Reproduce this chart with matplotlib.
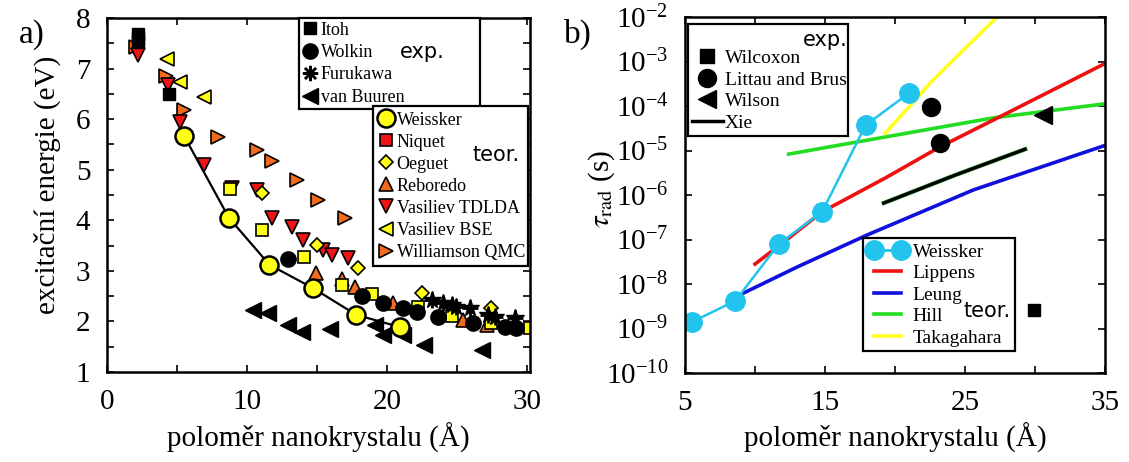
import numpy as np
import matplotlib
matplotlib.use("Agg")
import matplotlib.pyplot as plt
from matplotlib.lines import Line2D
import matplotlib.patheffects as pe

plt.rcParams['font.family'] = ['Liberation Serif', 'DejaVu Serif']
plt.rcParams['mathtext.fontset'] = 'stix'

# ---- panel a) data: excitation energy vs radius
itoh_x = [2.2, 2.2, 2.2, 4.4]
itoh_y = [7.68, 7.6, 7.52, 6.5]
wolkin_x = [12.9, 18.2, 19.7, 21.1, 22.1, 23.6, 26.1, 28.4, 29.2]
wolkin_y = [3.24, 2.51, 2.37, 2.27, 2.19, 2.09, 1.97, 1.89, 1.87]
furukawa_x = [23.2, 24.0, 24.6, 24.9, 25.9, 27.2, 27.7, 29.1]
furukawa_y = [2.43, 2.37, 2.33, 2.29, 2.27, 2.13, 2.09, 2.06]
vanbuuren_x = [10.4, 11.5, 12.9, 13.9, 15.9, 19.1, 19.7, 21.1, 22.6, 26.8]
vanbuuren_y = [2.23, 2.17, 1.93, 1.80, 1.85, 1.93, 1.73, 1.74, 1.54, 1.44]
weissker_x = [5.5, 8.7, 11.6, 14.7, 17.8, 20.9]
weissker_y = [5.67, 4.05, 3.12, 2.66, 2.13, 1.89]
niquet_x = [8.8, 11.1, 14.1, 16.8, 18.9, 22.2, 24.6, 27.4, 30.2]
niquet_y = [4.62, 3.81, 3.28, 2.72, 2.55, 2.29, 2.11, 1.97, 1.87]
oeguet_x = [11.1, 15.0, 17.9, 22.5, 27.4]
oeguet_y = [4.54, 3.51, 3.06, 2.57, 2.27]
reboredo_x = [14.9, 16.8, 17.7, 20.4, 25.4, 27.1]
reboredo_y = [2.96, 2.83, 2.69, 2.37, 2.03, 1.93]
tdlda_x = [2.2, 4.35, 5.2, 6.9, 8.9, 10.7, 11.8, 13.2, 14.0, 15.4, 16.1, 17.2]
tdlda_y = [7.27, 6.68, 5.95, 5.10, 4.63, 4.60, 4.05, 3.87, 3.61, 3.41, 3.32, 3.26]
bse_x = [4.3, 5.2, 6.9]
bse_y = [7.19, 6.74, 6.44]
qmc_x = [2.1, 4.2, 5.5, 7.9, 10.7, 11.8, 13.6, 15.1, 17.0]
qmc_y = [7.43, 6.85, 6.18, 5.65, 5.39, 5.18, 4.80, 4.40, 4.05]

# ---- panel b) data: radiative lifetime vs radius
weis_r = [5.5, 8.6, 11.7, 14.8, 17.9, 21.0]
weis_t = [1.4e-9, 4.2e-9, 7.9e-8, 4.2e-7, 3.7e-5, 1.95e-4]
lippens_r = [10.0, 11.8, 14.8, 19.4, 23.2, 28.0, 35.0]
lippens_t = [2.8e-8, 7.6e-8, 4.2e-7, 2.5e-6, 1.2e-5, 6.9e-5, 9.0e-4]
leung_r = [8.6, 13.0, 18.0, 25.6, 35.0]
leung_t = [5.1e-9, 2.4e-8, 1.26e-7, 1.3e-6, 1.3e-5]
hill_r = [12.4, 27.0, 35.0]
hill_t = [8.3e-6, 5.4e-5, 1.12e-4]
taka_r = [19.3, 21.0, 22.7, 25.6, 27.3]
taka_t = [2.45e-5, 9.5e-5, 3.8e-4, 3.0e-3, 1.0e-2]
xie_r = [19.2, 24.3, 29.3]
xie_t = [6.6e-7, 2.8e-6, 1.07e-5]
wilcoxon_r = [29.9]
wilcoxon_t = [2.6e-9]
littau_r = [22.6, 23.2]
littau_t = [9.5e-5, 1.45e-5]
wilson_r = [30.6]
wilson_t = [6.3e-5]

YEL = '#ffff14'
ORA = '#f26a1c'
RED = '#f01414'

fig = plt.figure(figsize=(11.29, 4.62), dpi=100)
ax1 = fig.add_axes([0.0948, 0.1948, 0.3746, 0.7662])
ax2 = fig.add_axes([0.6067, 0.1926, 0.3720, 0.7706])

for ax in (ax1, ax2):
    for s in ax.spines.values():
        s.set_linewidth(1.8)
    ax.tick_params(direction='in', top=True, right=True, length=5, width=1.2,
                   labelsize=21, pad=12)
    ax.tick_params(which='minor', length=0)

# ---------------- panel a)
ms = 10
kw = dict(linestyle='none', markeredgecolor='black', markeredgewidth=1.2)
ax1.plot(weissker_x, weissker_y, '-', color='black', lw=1.6, zorder=2)
ax1.plot(qmc_x, qmc_y, '>', color=ORA, ms=ms, **kw)
ax1.plot(bse_x, bse_y, '<', color=YEL, ms=ms, **kw)
ax1.plot(tdlda_x, tdlda_y, 'v', color=RED, ms=ms, **kw)
ax1.plot(reboredo_x, reboredo_y, '^', color=ORA, ms=ms, **kw)
ax1.plot(niquet_x, niquet_y, 's', color=YEL, ms=9, **kw)
ax1.plot(oeguet_x, oeguet_y, 'D', color=YEL, ms=7.5, **kw)
ax1.plot(weissker_x, weissker_y, 'o', color=YEL, ms=13, markeredgecolor='black',
         markeredgewidth=1.8, linestyle='none', zorder=3)
ax1.plot(itoh_x, itoh_y, 's', color='black', ms=9, linestyle='none')
ax1.plot(wolkin_x, wolkin_y, 'o', color='black', ms=11, linestyle='none')
ax1.plot(furukawa_x, furukawa_y, '*', color='black', ms=13, linestyle='none')
ax1.plot(furukawa_x, furukawa_y, '+', color='black', ms=12, mew=2, linestyle='none')
ax1.plot(vanbuuren_x, vanbuuren_y, '<', color='black', ms=11, linestyle='none')

ax1.set_xlim(0, 30.2)
ax1.set_ylim(1, 8)
ax1.set_xticks(np.arange(0, 31, 5))
ax1.set_xticklabels(['0', '', '10', '', '20', '', '30'])
ax1.set_yticks(np.arange(1, 8.01, 0.5))
ax1.set_yticklabels([str(int(v)) if v == int(v) else '' for v in np.arange(1, 8.01, 0.5)])

h_exp1 = [Line2D([], [], marker='s', color='black', ls='none', ms=9),
          Line2D([], [], marker='o', color='black', ls='none', ms=11),
          Line2D([], [], marker=(8, 2, 0), color='black', ls='none', ms=11, mew=1.8),
          Line2D([], [], marker='<', color='black', ls='none', ms=11)]
leg = ax1.legend(h_exp1, ['Itoh', 'Wolkin', 'Furukawa', 'van Buuren'],
                 loc='upper left', bbox_to_anchor=(0.454, 0.0, 0.428, 1.0), mode='expand',
                 fontsize=13, handlelength=0.8, handletextpad=0.2, labelspacing=0.3,
                 borderpad=0.2, borderaxespad=0, fancybox=False, edgecolor='black',
                 framealpha=1)
leg.get_frame().set_linewidth(1.6)
ax1.add_artist(leg)
ax1.text(0.745, 0.904, 'exp.', transform=ax1.transAxes, family='DejaVu Sans',
         fontsize=15, ha='center', va='center', zorder=10)

mk = dict(ls='none', markeredgecolor='black', markeredgewidth=1.2)
h_teo1 = [Line2D([], [], marker='o', color=YEL, ms=13, markeredgecolor='black',
                 markeredgewidth=1.8, ls='none'),
          Line2D([], [], marker='s', color=RED, ms=9, **mk),
          Line2D([], [], marker='D', color=YEL, ms=7.5, **mk),
          Line2D([], [], marker='^', color=ORA, ms=ms, **mk),
          Line2D([], [], marker='v', color=RED, ms=ms, **mk),
          Line2D([], [], marker='<', color=YEL, ms=ms, **mk),
          Line2D([], [], marker='>', color=ORA, ms=ms, **mk)]
leg2 = ax1.legend(h_teo1, ['Weissker', 'Niquet', 'Oeguet', 'Reboredo', 'Vasiliev TDLDA',
                           'Vasiliev BSE', 'Williamson QMC'],
                  loc='upper left', bbox_to_anchor=(0.629, 0.0, 0.366, 0.751), mode='expand',
                  fontsize=13, handlelength=0.8, handletextpad=0.2, labelspacing=0.28,
                  borderpad=0.3, borderaxespad=0, fancybox=False, edgecolor='black',
                  framealpha=1)
leg2.get_frame().set_linewidth(1.6)
ax1.text(0.92, 0.613, 'teor.', transform=ax1.transAxes, family='DejaVu Sans',
         fontsize=15, ha='center', va='center', zorder=10)

# ---------------- panel b)
ax2.set_yscale('log')
ax2.plot(hill_r, hill_t, color='#22dd22', lw=2.6)
ax2.plot(lippens_r, lippens_t, color='#ee1111', lw=2.6)
ax2.plot(leung_r, leung_t, color='#1010dd', lw=2.6)
ax2.plot(taka_r, taka_t, color='#ffff22', lw=2.6)
ax2.plot(xie_r, xie_t, color='black', lw=2.4,
         path_effects=[pe.Stroke(linewidth=3.2, foreground='#55bb55'), pe.Normal()])
ax2.plot(weis_r, weis_t, '-o', color='#22c4ee', lw=1.8, ms=14)
ax2.plot(wilcoxon_r, wilcoxon_t, 's', color='black', ms=9)
ax2.plot(littau_r, littau_t, 'o', color='black', ms=13)
ax2.plot(wilson_r, wilson_t, '<', color='black', ms=13)

ax2.set_xlim(5, 35)
ax2.set_ylim(1e-10, 1e-2)
ax2.set_xticks(np.arange(5, 36, 5))
ax2.set_xticklabels(['5', '', '15', '', '25', '', '35'])
ax2.set_yticks([10.0 ** k for k in range(-10, -1)])
ax2.minorticks_off()

h_exp2 = [Line2D([], [], ls='none', marker=None),
          Line2D([], [], marker='s', color='black', ls='none', ms=10),
          Line2D([], [], marker='o', color='black', ls='none', ms=13),
          Line2D([], [], marker='<', color='black', ls='none', ms=13),
          Line2D([], [], color='black', lw=2.5)]
leg3 = ax2.legend(h_exp2, [' ', 'Wilcoxon', 'Littau and Brus', 'Wilson', 'Xie'],
                  loc='upper left', bbox_to_anchor=(0.007, 0.0, 0.381, 0.98), mode='expand',
                  fontsize=14, handlelength=1.6, handletextpad=0.1, labelspacing=0.2,
                  borderpad=0.2, borderaxespad=0, fancybox=False, edgecolor='black',
                  framealpha=1)
leg3.get_frame().set_linewidth(1.6)
ax2.add_artist(leg3)
ax2.text(0.333, 0.935, 'exp.', transform=ax2.transAxes, family='DejaVu Sans',
         fontsize=15, ha='center', va='center', zorder=10)

h_teo2 = [Line2D([], [], marker='o', color='#22c4ee', lw=2, ms=14),
          Line2D([], [], color='#ee1111', lw=2.6),
          Line2D([], [], color='#1010dd', lw=2.6),
          Line2D([], [], color='#22dd22', lw=2.6),
          Line2D([], [], color='#ffff22', lw=2.6)]
leg4 = ax2.legend(h_teo2, ['Weissker', 'Lippens', 'Leung', 'Hill', 'Takagahara'],
                  loc='upper left', bbox_to_anchor=(0.424, 0.0, 0.362, 0.379), mode='expand',
                  fontsize=14, handlelength=2.0, handletextpad=0.3, labelspacing=0.2,
                  borderpad=0.25, borderaxespad=0, fancybox=False, edgecolor='black',
                  framealpha=1, numpoints=2)
leg4.get_frame().set_linewidth(1.6)
ax2.text(0.72, 0.175, 'teor.', transform=ax2.transAxes, family='DejaVu Sans',
         fontsize=15, ha='center', va='center', zorder=10)

# ---------------- labels
fig.text(0.282, 0.052, 'poloměr nanokrystalu (Å)', ha='center', va='center', fontsize=21)
fig.text(0.793, 0.052, 'poloměr nanokrystalu (Å)', ha='center', va='center', fontsize=21)
fig.text(0.042, 0.6, 'excitační energie (eV)', rotation=90, ha='center', va='center',
         fontsize=21)
fig.text(0.533, 0.59, r'$\tau_{\rm rad}$' + ' (s)', rotation=90, ha='center', va='center',
         fontsize=21)
fig.text(0.028, 0.925, 'a)', ha='center', va='center', fontsize=24)
fig.text(0.512, 0.925, 'b)', ha='center', va='center', fontsize=24)

fig.savefig('out.png', dpi=100)
